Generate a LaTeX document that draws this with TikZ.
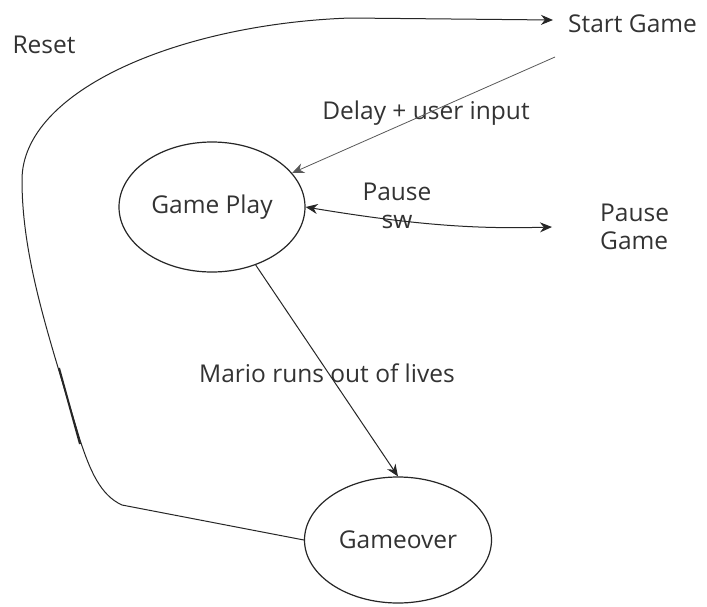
\documentclass[tikz,border=0pt]{standalone}
\usepackage{fontspec}
\setmainfont{Open Sans}
\usetikzlibrary{arrows.meta,shapes.geometric}
\begin{document}
\begin{tikzpicture}[x=1pt,y=-1pt,
  state/.style={draw=black!85,line width=1.2pt,ellipse,inner sep=0pt},
  lbl/.style={text=black!80,font=\fontsize{24.5}{28}\selectfont,inner sep=0pt},
  link/.style={draw=black!85,line width=1pt},
  tip/.style={-{Stealth[length=12pt,width=10pt]}}]
\useasboundingbox (0,0) rectangle (707,606);
\fill[white] (0,0) rectangle (707,606);

% states
\node[state,minimum width=186pt,minimum height=130pt] (play) at (212,207) {};
\node[lbl] at (play) {Game Play};
\node[state,minimum width=187pt,minimum height=126pt] (over) at (398,540) {};
\node[lbl] at (over) {Gameover};

% plain text states
\node[lbl,anchor=west] (start) at (568,24) {Start Game};
\node[lbl,align=left,anchor=west] (pause) at (600,227) {Pause\\Game};

% labels
\node[lbl] at (44,45) {Reset};
\node[lbl] at (426,113) {Delay + user input};
\node[lbl,align=center] at (397,206) {Pause\\sw};
\node[lbl] at (327,373) {Mario runs out of lives};

% connectors
\coordinate (s1) at (555,57);
\draw[draw=black!65,line width=0.8pt,tip] (s1) -- (play.23);
\coordinate (p1) at (552,227);
\draw[link,{Stealth[length=12pt,width=10pt]}-{Stealth[length=12pt,width=10pt]}] (play.east) .. controls (420,226) and (480,229) .. (p1);
\draw[link,tip] (play.-53) -- (over.north);
\coordinate (r1) at (122,505);
\coordinate (s2) at (553,20);
\draw[link,tip] (over.west) -- (r1) .. controls (100,495) and (90,470) .. (80,440)
  .. controls (50,340) and (22,260) .. (22,180)
  .. controls (22,90) and (180,24) .. (350,18) -- (s2);
% heavier stroke on the lower left part of the reset curve
\draw[black!85,line width=2pt] (59,368) -- (80,444);
\end{tikzpicture}
\end{document}
